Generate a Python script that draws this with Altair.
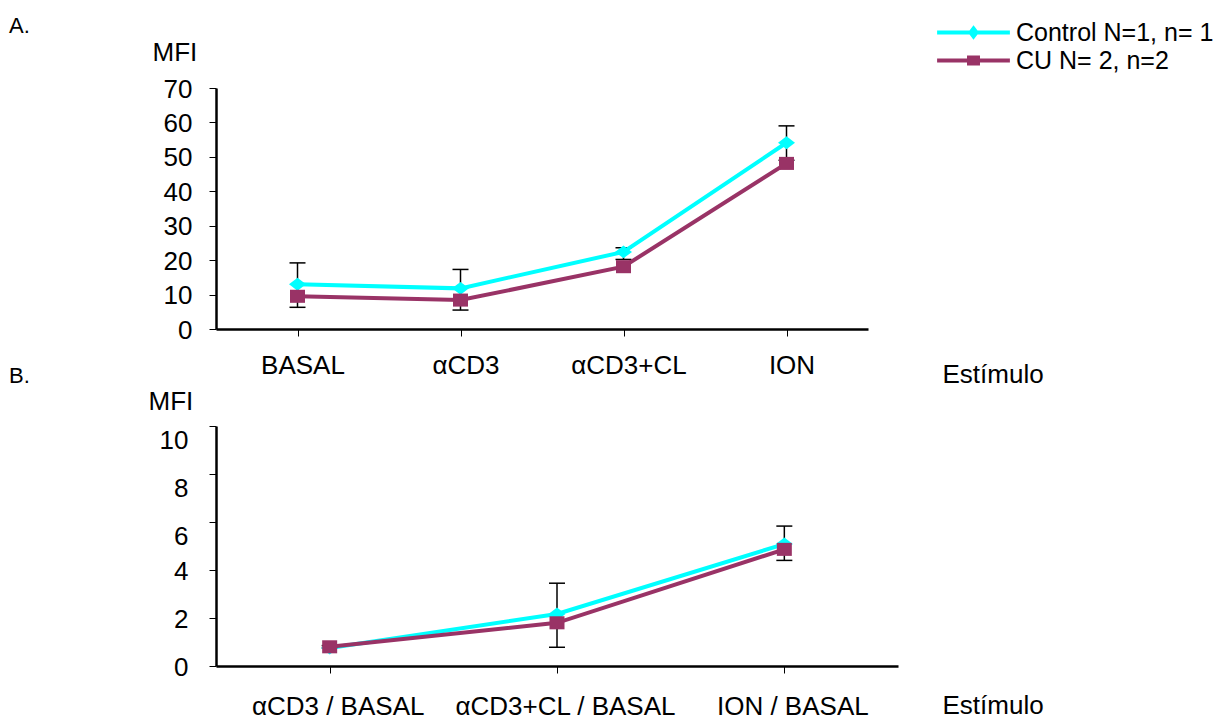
import altair as alt
import pandas as pd

FONT = "Liberation Sans"
SERIES = ["Control N=1, n= 1", "CU N= 2, n=2"]
COLORS = ["#00FFFF", "#993366"]

# Panel A
cats_a = ["BASAL", "αCD3", "αCD3+CL", "ION"]
control_a = [13.0, 11.8, 22.4, 54.1]
cu_a = [9.5, 8.4, 18.1, 48.1]
err_lo_a = [6.3, 5.5, 20.2, 49.0]
err_hi_a = [19.2, 17.3, 23.6, 59.0]
yticks_a = [0, 10, 20, 30, 40, 50, 60, 70]

# Panel B
cats_b = ["αCD3 / BASAL", "αCD3+CL / BASAL", "ION / BASAL"]
control_b = [0.75, 2.17, 5.08]
cu_b = [0.8, 1.8, 4.86]
err_lo_b = [0.75, 0.78, 4.40]
err_hi_b = [0.85, 3.45, 5.83]
yticks_b = [0, 2, 4, 6, 8, 10]

DIAMOND = "M-1,0L0,-0.76L1,0L0,0.76Z"
SQUARE = "M-1,-0.87L1,-0.87L1,0.87L-1,0.87Z"
LEG_PATHS = [
    "M-5.2,0L5.2,0M0,-0.57L0.43,0L0,0.57L-0.43,0Z",
    "M-5.2,0L5.2,0M-0.64,-0.43L0.64,-0.43L0.64,0.43L-0.64,0.43Z",
]


def panel(cats, ctrl, cu, lo, hi, yvals, width, height, tag, tag_y, mfi_x, mfi_y,
          est_y, ylabpad, xlabpad, xlaboff, ylabbase, ylaboff, legend=False):
    n = len(cats)
    pts = pd.DataFrame({
        "cat": cats * 2,
        "idx": list(range(n)) * 2,
        "series": [SERIES[0]] * n + [SERIES[1]] * n,
        "value": ctrl + cu,
    })
    err = pd.DataFrame({"cat": cats, "lo": lo, "hi": hi})

    xaxis = alt.Axis(title="Estímulo", titleX=726, titleY=est_y, titleAlign="left",
                     titleBaseline="alphabetic", titleAngle=0, labelAngle=0,
                     labelPadding=xlabpad, labelLimit=400, labelOffset=xlaboff)
    yaxis = alt.Axis(title="MFI", values=yvals, titleX=mfi_x, titleY=mfi_y, titleAngle=0,
                     titleAlign="left", titleBaseline="alphabetic", labelPadding=ylabpad,
                     labelBaseline=ylabbase, labelOffset=ylaboff)
    xs = alt.Scale(domain=cats, type="point", padding=0.5)
    ys = alt.Scale(domain=[yvals[0], yvals[-1]], nice=False)

    def X():
        return alt.X("cat:N", scale=xs, axis=xaxis, sort=cats)

    def Y(f):
        return alt.Y(f, scale=ys, axis=yaxis)

    rule = alt.Chart(err).mark_rule(color="black", strokeWidth=1.5).encode(
        x=X(), y=Y("lo:Q"), y2="hi:Q")
    cap_lo = alt.Chart(err).mark_tick(color="black", thickness=1.5, size=16,
                                      orient="horizontal", opacity=1).encode(x=X(), y=Y("lo:Q"))
    cap_hi = alt.Chart(err).mark_tick(color="black", thickness=1.5, size=16,
                                      orient="horizontal", opacity=1).encode(x=X(), y=Y("hi:Q"))

    layers = [rule, cap_lo, cap_hi]
    for s, col, shp, sz in [(SERIES[0], COLORS[0], DIAMOND, 289),
                            (SERIES[1], COLORS[1], SQUARE, 225)]:
        base = alt.Chart(pts).transform_filter(alt.datum.series == s)
        line = base.mark_line(strokeWidth=4, color=col).encode(
            x=X(), y=Y("value:Q"), order="idx:Q")
        point = base.mark_point(filled=True, shape=shp, size=sz, opacity=1, strokeWidth=0,
                                color=col).encode(x=X(), y=Y("value:Q"))
        layers += [line, point]

    label = alt.Chart(pd.DataFrame({"t": [tag]})).mark_text(
        align="left", baseline="alphabetic", fontSize=22, font=FONT, color="black"
    ).encode(text="t:N", x=alt.value(-207), y=alt.value(tag_y))
    layers.append(label)

    if legend:
        leg = alt.Legend(orient="none", legendX=745, legendY=-68, title=None,
                         labelFont=FONT, labelFontSize=25, labelColor="black",
                         labelOffset=30, labelLimit=400, symbolSize=196,
                         symbolStrokeWidth=4, symbolOpacity=1, rowPadding=2, padding=0)
        lg = alt.Chart(pts).mark_point(filled=True, strokeWidth=4).encode(
            x=X(), y=Y("value:Q"),
            opacity=alt.value(0),
            fill=alt.Fill("series:N", scale=alt.Scale(domain=SERIES, range=COLORS), legend=leg),
            stroke=alt.Stroke("series:N", scale=alt.Scale(domain=SERIES, range=COLORS), legend=leg),
            shape=alt.Shape("series:N", scale=alt.Scale(domain=SERIES, range=LEG_PATHS), legend=leg),
        )
        layers.append(lg)

    return alt.layer(*layers).properties(width=width, height=height)


A = panel(cats_a, control_a, cu_a, err_lo_a, err_hi_a, yticks_a, 652, 241, "A.", -55,
          -64, -28, 53, 17, 16, 5, "middle", 1, legend=True)
B = panel(cats_b, control_b, cu_b, err_lo_b, err_hi_b, yticks_b, 682, 240, "B.", -43,
          -68, -17, 47, 21, 20, 8,
          {"condition": {"test": "datum.value >= 6", "value": "top"}, "value": "middle"}, 1)

chart = alt.vconcat(A, B, spacing=97, bounds="flush").properties(
    padding={"left": 1, "top": 7, "right": 0, "bottom": 0}
).configure_view(stroke=None).configure_axis(
    domainColor="black", domainWidth=2.5, tickColor="black", tickWidth=1, tickSize=7,
    labelFont=FONT, labelFontSize=26, labelColor="black",
    titleFont=FONT, titleFontSize=26, titleFontWeight="normal", titleColor="black",
    grid=False,
)

chart.save("out.html", embed_options={"renderer": "svg", "actions": False})
